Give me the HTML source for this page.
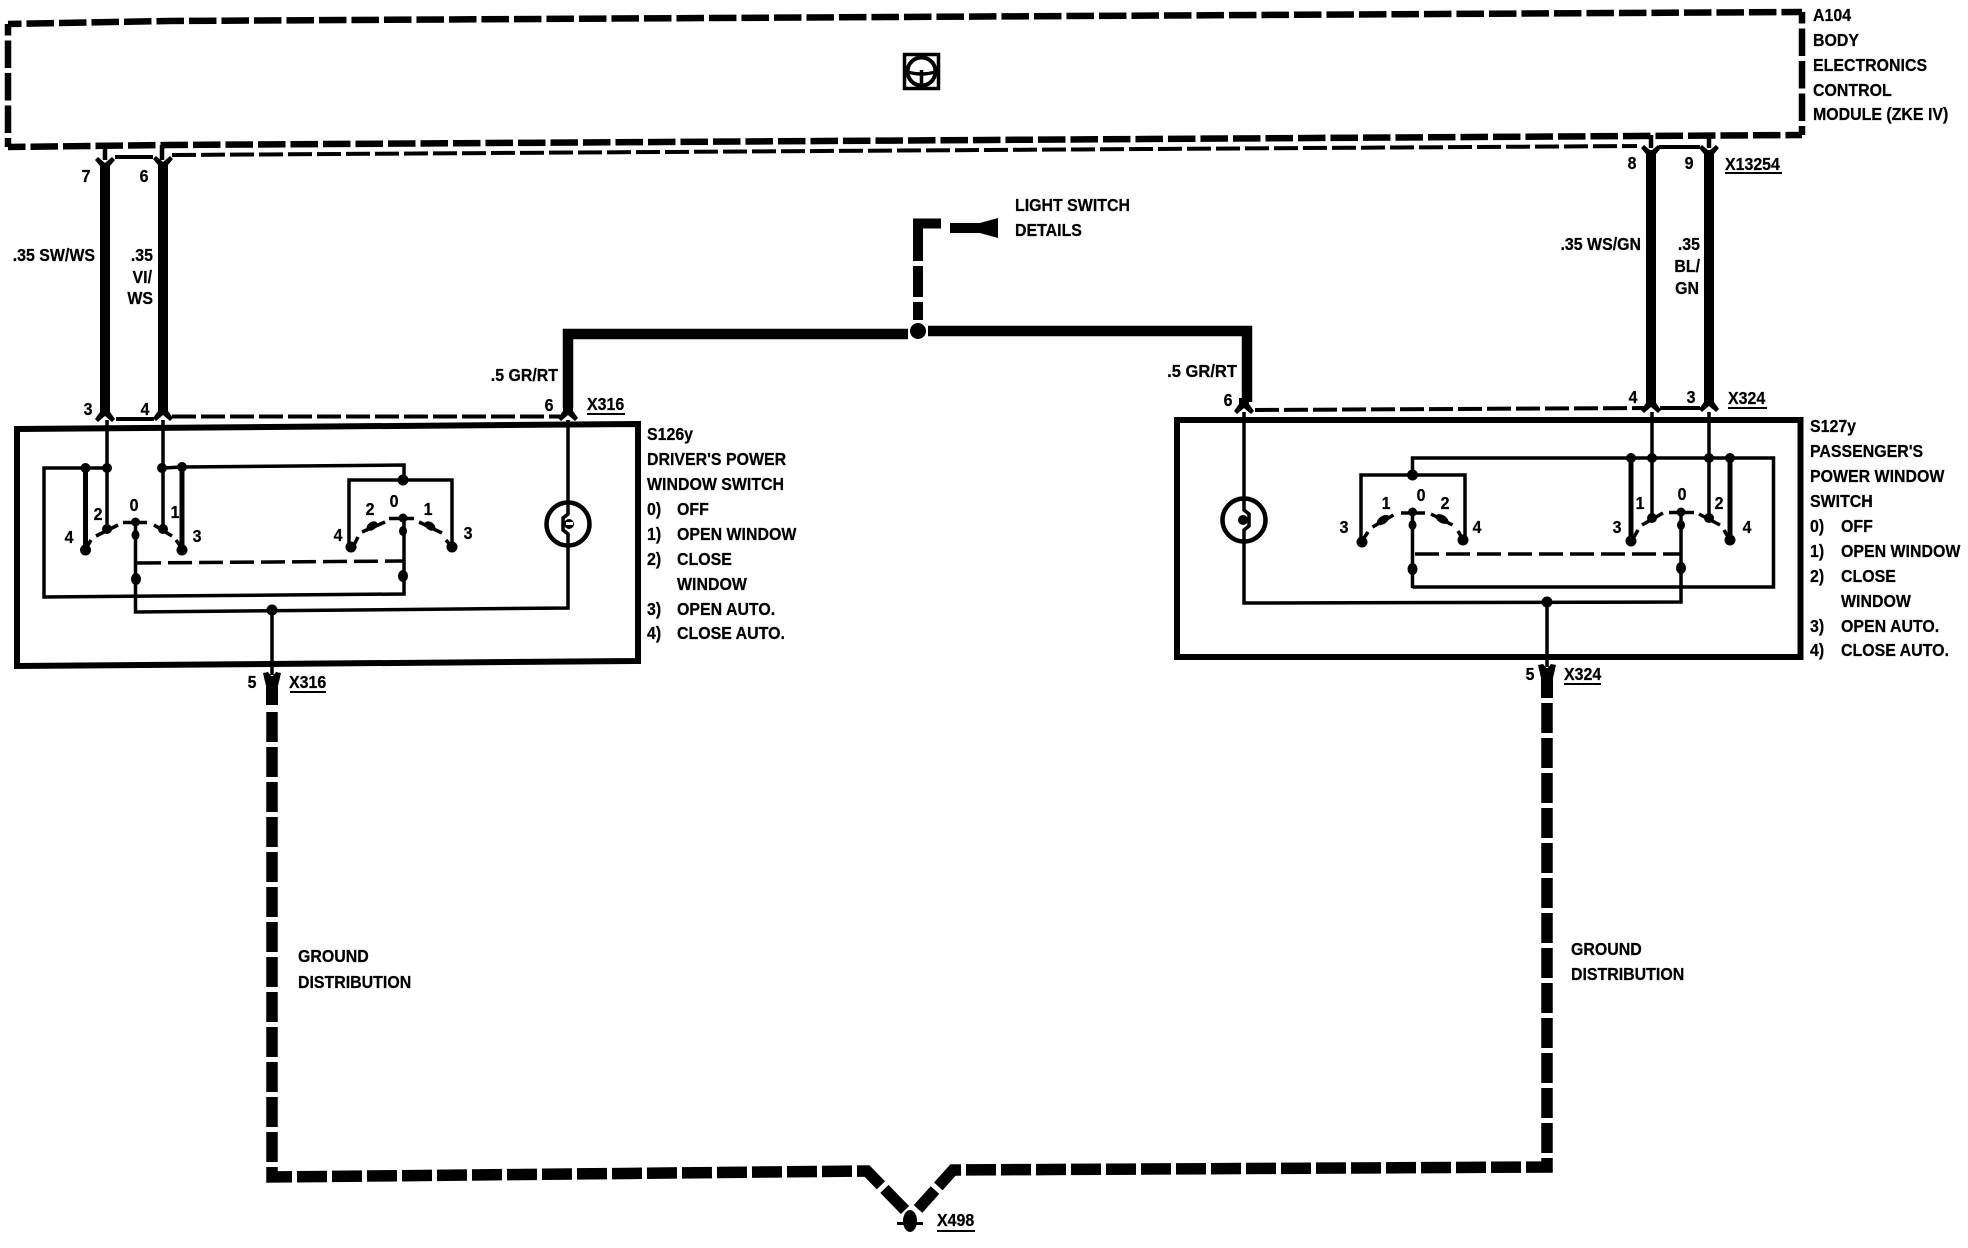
<!DOCTYPE html>
<html><head><meta charset="utf-8"><style>
html,body{margin:0;padding:0;background:#fff}
svg{display:block}
text{font-family:"Liberation Sans",sans-serif;font-weight:bold;font-size:18px;fill:#000;stroke:#000;stroke-width:.25}
.m{text-anchor:middle}.e{text-anchor:end}
.n{fill:none;stroke:#000;stroke-linejoin:miter}
.t{stroke-width:3.5}.h{stroke-width:5}
</style></head><body>
<svg width="1968" height="1248" viewBox="0 0 1968 1248" xmlns="http://www.w3.org/2000/svg">
<defs>
<polygon id="ft" points="-5,18 5,18 5,8 10,2 7,-1 0,5 -7,-1 -10,2 -5,8"/>
<polygon id="fb" points="-5,-12 5,-12 5,-6 10,1 7,4 0,-2 -7,4 -10,1 -5,-6"/>
</defs>
<rect width="1968" height="1248" fill="#fff"/>

<!-- A104 dashed module -->
<g class="n" stroke-width="6.5" stroke-dasharray="27.5 5">
<path d="M8 24L168 21L1802 12" stroke-dashoffset="14"/>
<path d="M8 24V147" stroke-dashoffset="16"/>
<path d="M8 147L168 145L1802 135" stroke-dashoffset="10"/>
<path d="M1802 12V135" stroke-dashoffset="16"/>
</g>
<!-- icon -->
<rect x="904.500" y="54.500" width="34" height="34" class="n" stroke-width="3.500"/>
<circle cx="921.500" cy="71.500" r="14" fill="#fff" stroke="#000" stroke-width="4"/>
<path d="M921.500 70V85M908 72Q921.500 76 935 72" class="n" stroke-width="3.500"/>

<!-- thin dashed connector lines -->
<g class="n" stroke-width="4" stroke-dasharray="24 5">
<path d="M172 155L1637 146"/>
<path d="M172 416.500H560"/>
<path d="M1255 410L1645 408"/>
</g>
<path d="M115 157H153M1659 147H1700M116 419H154M1660 408H1700" class="n" stroke-width="4"/>
<path d="M105 147V160M162 145V160M1651 135V148M1709 135V148" class="n" stroke-width="4.500"/>

<!-- main wires -->
<path d="M105 165V410M163 165V410M1651 150V402M1709 150V402" class="n" stroke-width="10"/>
<use href="#ft" x="105" y="158"/><use href="#ft" x="163" y="157"/>
<use href="#ft" x="1651" y="146"/><use href="#ft" x="1709" y="146"/>
<use href="#fb" x="105" y="418"/><use href="#fb" x="163" y="417"/><use href="#fb" x="568" y="417"/>
<use href="#fb" x="1244" y="410"/><use href="#fb" x="1651" y="409"/><use href="#fb" x="1709" y="408"/>

<!-- light feed -->
<path d="M568 408V334H908M928 331H1247V402" class="n" stroke-width="10.500"/>
<circle cx="918" cy="331" r="8" fill="#000"/>
<path d="M918 320V302M918 297V266M918 261V223.500H941M950 228H985" class="n" stroke-width="10"/>
<polygon points="980,223 998,218 998,238 980,233" fill="#000"/>

<!-- driver's box -->
<polygon points="17,429 638,424 638,661 17,666" class="n" stroke-width="6"/>
<g class="n t">
<path d="M107 420V528M163 420V528"/>
<path d="M107 468H44V597L404 594V518"/>
<path d="M163 468L182 467L404 465V480M349 549V480H452V549"/>
<path d="M135.500 522V612L568 608V420"/>
<path d="M272 610V675"/>
<path d="M85.500 468V550M182 467V550" stroke-width="5"/>
<path d="M137 563L403 561" stroke-dasharray="24 7"/>
</g>
<circle cx="568" cy="524" r="21.500" class="n" stroke-width="4.500"/>
<rect x="564" y="505" width="8" height="38" fill="#fff"/>
<path d="M568 503V514L563 518V530L568 534V546" class="n" stroke-width="3.500"/>
<circle cx="569" cy="524" r="5" fill="#000"/>
<rect x="566" y="522" width="7" height="3" fill="#fff"/>
<g fill="#000">
<circle cx="85.500" cy="468" r="5"/><circle cx="107" cy="468" r="5"/><circle cx="162" cy="468" r="5"/><circle cx="182" cy="467" r="5"/><circle cx="403" cy="480" r="5.500"/>
<circle cx="85.500" cy="550" r="5.500"/><circle cx="182" cy="550" r="5.500"/><circle cx="351" cy="547" r="5.500"/><circle cx="452" cy="547" r="5.500"/>
<circle cx="135.500" cy="522" r="4.500"/><ellipse cx="135.500" cy="535" rx="4" ry="5"/><ellipse cx="136" cy="579" rx="5" ry="6"/>
<circle cx="403" cy="518" r="4.500"/><ellipse cx="403" cy="531" rx="4" ry="5"/><ellipse cx="403" cy="576" rx="5" ry="6"/>
<circle cx="107" cy="529" r="5"/><circle cx="163" cy="529" r="5"/><circle cx="272" cy="610" r="5.500"/>
<ellipse cx="372" cy="526" rx="6" ry="4" transform="rotate(-35 372 526)"/><ellipse cx="430" cy="526" rx="6" ry="4" transform="rotate(35 430 526)"/>
</g>
<g class="n" stroke-width="3.500">
<path d="M96 536L118 525M123 522.500H147M154 525L172 536M87 547L91 540M176 540L181 547"/>
<path d="M362 532L385 522M389 518.500H414M419 522L442 533M354 545L358 537M446 540L451 546"/>
</g>
<path d="M272 676V705" class="n" stroke-width="12"/>
<polygon points="263,673 268,672 272,677 276,672 281,673 278,686 266,686" fill="#000"/>

<!-- passenger's box -->
<rect x="1177" y="420" width="623.500" height="237" class="n" stroke-width="6"/>
<g class="n t">
<path d="M1652 412V518M1709 412V518"/>
<path d="M1412.500 475V458H1773.500V587H1412.500"/>
<path d="M1361 542V475H1465V540"/>
<path d="M1412.500 512V588"/>
<path d="M1681 512V602L1244 603V412"/>
<path d="M1547 602V667"/>
<path d="M1631 458V541M1730 458V540" stroke-width="5"/>
<path d="M1415 554H1681" stroke-dasharray="24 7"/>
</g>
<circle cx="1244" cy="520" r="21.500" class="n" stroke-width="4.500"/>
<rect x="1240" y="501" width="8" height="38" fill="#fff"/>
<path d="M1244 499V510L1249 514V526L1244 530V542" class="n" stroke-width="3.500"/>
<circle cx="1243" cy="520" r="5" fill="#000"/>
<g fill="#000">
<circle cx="1412.500" cy="475" r="5.500"/><circle cx="1631" cy="458" r="5"/><circle cx="1652" cy="458" r="5"/><circle cx="1709" cy="458" r="5"/><circle cx="1730" cy="458" r="5"/>
<circle cx="1362" cy="542" r="5.500"/><circle cx="1463" cy="540" r="5.500"/><circle cx="1631" cy="541" r="5.500"/><circle cx="1730" cy="540" r="5.500"/>
<circle cx="1412.500" cy="512" r="4.500"/><ellipse cx="1412.500" cy="525" rx="4" ry="5"/><ellipse cx="1412.500" cy="569" rx="5" ry="6"/>
<circle cx="1681" cy="512" r="4.500"/><ellipse cx="1681" cy="525" rx="4" ry="5"/><ellipse cx="1681" cy="568" rx="5" ry="6"/>
<circle cx="1652" cy="518" r="5"/><circle cx="1709" cy="518" r="5"/><circle cx="1547" cy="602" r="5.500"/>
<ellipse cx="1383" cy="520" rx="7" ry="4" transform="rotate(-35 1383 520)"/><ellipse cx="1442" cy="519" rx="7" ry="4" transform="rotate(30 1442 519)"/>
</g>
<g class="n" stroke-width="3.500">
<path d="M1372.500 527L1393.500 515M1401 513H1425M1431 514L1452.500 525M1364 538L1368 532M1458 531L1462 538"/>
<path d="M1642 525L1663 513M1669 512.500H1694M1699 514L1720 525M1634 537L1638 530M1724 530L1728 537"/>
</g>
<path d="M1547 668V698" class="n" stroke-width="12"/>
<polygon points="1538,665 1543,664 1547,669 1551,664 1556,665 1553,678 1541,678" fill="#000"/>

<!-- ground -->
<g class="n" stroke-width="11.500" stroke-dasharray="30 5">
<path d="M272 712V1177L867 1171L905 1210"/>
<path d="M1547 703V1167L953 1170L918 1209"/>
</g>
<ellipse cx="910" cy="1221" rx="7" ry="11" fill="#000"/>
<path d="M897 1223.500H923" class="n" stroke-width="3"/>
<path d="M290 692H326M587 414H625M937 1231H975M1725 173H1782M1728 408H1767M1564 684H1601" class="n" stroke-width="2"/>

<!-- labels -->
<text transform="translate(1813 21) scale(.885 1)">A104</text>
<text transform="translate(1813 46) scale(.885 1)">BODY</text>
<text transform="translate(1813 71) scale(.885 1)">ELECTRONICS</text>
<text transform="translate(1813 96) scale(.885 1)">CONTROL</text>
<text transform="translate(1813 120) scale(.885 1)">MODULE (ZKE IV)</text>
<text transform="translate(1015 211) scale(.885 1)">LIGHT SWITCH</text>
<text transform="translate(1015 236) scale(.885 1)">DETAILS</text>

<text class="m" transform="translate(86 182) scale(.885 1)">7</text>
<text class="m" transform="translate(144 182) scale(.885 1)">6</text>
<text class="e" transform="translate(95 261) scale(.885 1)">.35 SW/WS</text>
<text class="e" transform="translate(153 261) scale(.885 1)">.35</text>
<text class="e" transform="translate(152 283) scale(.885 1)">VI/</text>
<text class="e" transform="translate(153 304) scale(.885 1)">WS</text>
<text class="m" transform="translate(88 415) scale(.885 1)">3</text>
<text class="m" transform="translate(145 415) scale(.885 1)">4</text>
<text class="e" transform="translate(558 381) scale(.885 1)">.5 GR/RT</text>
<text class="m" transform="translate(549 411) scale(.885 1)">6</text>
<text transform="translate(587 410) scale(.885 1)">X316</text>

<text class="m" transform="translate(1632 169) scale(.885 1)">8</text>
<text class="m" transform="translate(1689 169) scale(.885 1)">9</text>
<text transform="translate(1725 170) scale(.885 1)">X13254</text>
<text class="e" transform="translate(1641 250) scale(.885 1)">.35 WS/GN</text>
<text class="e" transform="translate(1700 250) scale(.885 1)">.35</text>
<text class="e" transform="translate(1700 272) scale(.885 1)">BL/</text>
<text class="e" transform="translate(1699 294) scale(.885 1)">GN</text>
<text class="m" transform="translate(1633 403) scale(.885 1)">4</text>
<text class="m" transform="translate(1691 403) scale(.885 1)">3</text>
<text transform="translate(1728 404) scale(.885 1)">X324</text>
<text class="e" transform="translate(1237 377) scale(.92 1)">.5 GR/RT</text>
<text class="m" transform="translate(1228 406) scale(.885 1)">6</text>

<text class="m" transform="translate(98 520) scale(.885 1)">2</text>
<text class="m" transform="translate(134 511) scale(.885 1)">0</text>
<text class="m" transform="translate(175 518) scale(.885 1)">1</text>
<text class="m" transform="translate(69 543) scale(.885 1)">4</text>
<text class="m" transform="translate(197 542) scale(.885 1)">3</text>
<text class="m" transform="translate(338 541) scale(.885 1)">4</text>
<text class="m" transform="translate(370 515) scale(.885 1)">2</text>
<text class="m" transform="translate(394 507) scale(.885 1)">0</text>
<text class="m" transform="translate(428 515) scale(.885 1)">1</text>
<text class="m" transform="translate(468 539) scale(.885 1)">3</text>

<text class="m" transform="translate(1344 533) scale(.885 1)">3</text>
<text class="m" transform="translate(1386 509) scale(.885 1)">1</text>
<text class="m" transform="translate(1421 501) scale(.885 1)">0</text>
<text class="m" transform="translate(1445 509) scale(.885 1)">2</text>
<text class="m" transform="translate(1477 533) scale(.885 1)">4</text>
<text class="m" transform="translate(1617 533) scale(.885 1)">3</text>
<text class="m" transform="translate(1640 509) scale(.885 1)">1</text>
<text class="m" transform="translate(1682 500) scale(.885 1)">0</text>
<text class="m" transform="translate(1719 509) scale(.885 1)">2</text>
<text class="m" transform="translate(1747 533) scale(.885 1)">4</text>

<text class="m" transform="translate(252 688) scale(.885 1)">5</text>
<text transform="translate(289 688) scale(.885 1)">X316</text>
<text class="m" transform="translate(1530 680) scale(.885 1)">5</text>
<text transform="translate(1564 680) scale(.885 1)">X324</text>
<text transform="translate(937 1226) scale(.885 1)">X498</text>

<text transform="translate(298 962) scale(.885 1)">GROUND</text>
<text transform="translate(298 988) scale(.885 1)">DISTRIBUTION</text>
<text transform="translate(1571 955) scale(.885 1)">GROUND</text>
<text transform="translate(1571 980) scale(.885 1)">DISTRIBUTION</text>

<text transform="translate(647 440) scale(.885 1)">S126y</text>
<text transform="translate(647 465) scale(.885 1)">DRIVER'S POWER</text>
<text transform="translate(647 490) scale(.885 1)">WINDOW SWITCH</text>
<text transform="translate(647 515) scale(.885 1)">0)</text><text transform="translate(677 515) scale(.885 1)">OFF</text>
<text transform="translate(647 540) scale(.885 1)">1)</text><text transform="translate(677 540) scale(.885 1)">OPEN WINDOW</text>
<text transform="translate(647 565) scale(.885 1)">2)</text><text transform="translate(677 565) scale(.885 1)">CLOSE</text>
<text transform="translate(677 590) scale(.885 1)">WINDOW</text>
<text transform="translate(647 615) scale(.885 1)">3)</text><text transform="translate(677 615) scale(.885 1)">OPEN AUTO.</text>
<text transform="translate(647 639) scale(.885 1)">4)</text><text transform="translate(677 639) scale(.885 1)">CLOSE AUTO.</text>

<text transform="translate(1810 432) scale(.885 1)">S127y</text>
<text transform="translate(1810 457) scale(.885 1)">PASSENGER'S</text>
<text transform="translate(1810 482) scale(.885 1)">POWER WINDOW</text>
<text transform="translate(1810 507) scale(.885 1)">SWITCH</text>
<text transform="translate(1810 532) scale(.885 1)">0)</text><text transform="translate(1841 532) scale(.885 1)">OFF</text>
<text transform="translate(1810 557) scale(.885 1)">1)</text><text transform="translate(1841 557) scale(.885 1)">OPEN WINDOW</text>
<text transform="translate(1810 582) scale(.885 1)">2)</text><text transform="translate(1841 582) scale(.885 1)">CLOSE</text>
<text transform="translate(1841 607) scale(.885 1)">WINDOW</text>
<text transform="translate(1810 632) scale(.885 1)">3)</text><text transform="translate(1841 632) scale(.885 1)">OPEN AUTO.</text>
<text transform="translate(1810 656) scale(.885 1)">4)</text><text transform="translate(1841 656) scale(.885 1)">CLOSE AUTO.</text>
</svg>
</body></html>
